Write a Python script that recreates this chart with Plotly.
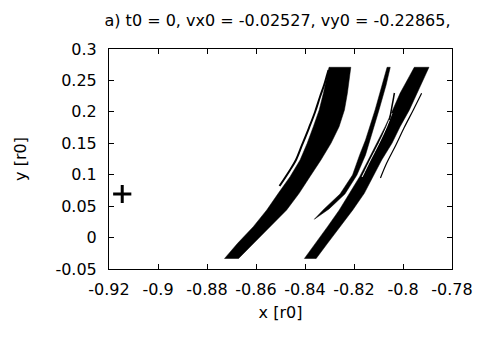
import plotly.graph_objects as go

# ---------------- data ----------------
title_text = "a) t0 = 0, vx0 = -0.02527, vy0 = -0.22865,"

x_tick_vals = [-0.92, -0.90, -0.88, -0.86, -0.84, -0.82, -0.80, -0.78]
x_tick_text = ["-0.92", "-0.9", "-0.88", "-0.86", "-0.84", "-0.82", "-0.8", "-0.78"]
y_tick_vals = [-0.05, 0.0, 0.05, 0.10, 0.15, 0.20, 0.25, 0.30]
y_tick_text = ["-0.05", "0", "0.05", "0.1", "0.15", "0.2", "0.25", "0.3"]

# y levels at which band edges were sampled
band_y = [-0.0336, -0.0091, 0.0173, 0.0439, 0.0704, 0.0968, 0.1234,
          0.1500, 0.1764, 0.2030, 0.2295, 0.2559, 0.2709]

band1_left = [-0.8729, -0.8675, -0.8611, -0.8556, -0.8509, -0.8461, -0.8420,
              -0.8391, -0.8366, -0.8342, -0.8325, -0.8309, -0.8302]
band1_right = [-0.8672, -0.8611, -0.8543, -0.8475, -0.8424, -0.8380, -0.8335,
               -0.8294, -0.8261, -0.8239, -0.8227, -0.8218, -0.8213]

band2_left = [-0.8403, -0.8356, -0.8308, -0.8260, -0.8218, -0.8177, -0.8142,
              -0.8106, -0.8073, -0.8042, -0.8012, -0.7975, -0.7954]
band2_right = [-0.8355, -0.8308, -0.8255, -0.8205, -0.8158, -0.8121, -0.8087,
               -0.8045, -0.8012, -0.7974, -0.7944, -0.7912, -0.7894]

# lens-shaped strand between the two bands (left edge up, right edge down)
strandB_x = [-0.8362, -0.8322, -0.8257, -0.8206, -0.8177, -0.8153, -0.8114, -0.8086, -0.8065,
             -0.8052, -0.8069, -0.8098, -0.8133, -0.8153, -0.8188, -0.8237, -0.8302, -0.8362]
strandB_y = [0.0291, 0.0455, 0.0693, 0.0995, 0.1314, 0.1552, 0.2030, 0.2427, 0.2709,
             0.2709, 0.2427, 0.2030, 0.1552, 0.1314, 0.0995, 0.0693, 0.0455, 0.0291]

# thin strand left of band 1
strandA_x = [-0.8504, -0.8461, -0.8437, -0.8412, -0.8384, -0.8359, -0.8339, -0.8322, -0.8310, -0.8304]
strandA_y = [0.0820, 0.1075, 0.1234, 0.1473, 0.1743, 0.1998, 0.2236, 0.2427, 0.2586, 0.2666]

# thin strand right of band 2
strandD_x = [-0.8092, -0.8067, -0.8029, -0.7996, -0.7958, -0.7924]
strandD_y = [0.0948, 0.1182, 0.1473, 0.1743, 0.2030, 0.2295]

# white crack near the left edge of band 2, and the thin tip above it
crack_x = [-0.8167, -0.8133, -0.8098, -0.8067, -0.8045]
crack_y = [0.0964, 0.1234, 0.1500, 0.1759, 0.1982]
strandC_x = [-0.8055, -0.8045, -0.8035]
strandC_y = [0.1871, 0.2061, 0.2300]

# starting point marker
marker_x = [-0.9146]
marker_y = [0.0693]

# ---------------- figure ----------------
fig = go.Figure()

def band(xl, xr, ys):
    return go.Scatter(x=xl + xr[::-1], y=ys + ys[::-1], mode="lines",
                      fill="toself", fillcolor="black",
                      line=dict(color="black", width=0.5),
                      hoverinfo="skip", showlegend=False)

fig.add_trace(band(band1_left, band1_right, band_y))
fig.add_trace(band(band2_left, band2_right, band_y))
fig.add_trace(go.Scatter(x=strandB_x, y=strandB_y, mode="lines", fill="toself",
                         fillcolor="black", line=dict(color="black", width=0.5),
                         showlegend=False, hoverinfo="skip"))
fig.add_trace(go.Scatter(x=strandA_x, y=strandA_y, mode="lines",
                         line=dict(color="black", width=2, shape="spline"), showlegend=False))
fig.add_trace(go.Scatter(x=strandD_x, y=strandD_y, mode="lines",
                         line=dict(color="black", width=1.2, shape="spline"), showlegend=False))
fig.add_trace(go.Scatter(x=crack_x, y=crack_y, mode="lines",
                         line=dict(color="white", width=1, shape="spline"), showlegend=False))
fig.add_trace(go.Scatter(x=strandC_x, y=strandC_y, mode="lines",
                         line=dict(color="black", width=1.5), showlegend=False))
fig.add_trace(go.Scatter(x=marker_x, y=marker_y, mode="markers",
                         marker=dict(symbol="cross-thin", size=13,
                                     line=dict(color="black", width=3)),
                         showlegend=False))

font = dict(family="DejaVu Sans", size=16, color="black")

fig.update_layout(
    width=500, height=342,
    margin=dict(l=109, r=48, t=49, b=73),
    paper_bgcolor="white", plot_bgcolor="white",
    font=font,
    title=dict(text=title_text, font=font, xref="container", x=0.555,
               xanchor="center", yref="container", y=1 - 20 / 342, yanchor="middle"),
    xaxis=dict(range=[-0.92, -0.78], tickvals=x_tick_vals, ticktext=x_tick_text,
               ticks="inside", ticklen=5, tickcolor="black", mirror="ticks",
               showline=True, linecolor="black", linewidth=1, showgrid=False,
               zeroline=False, ticklabelstandoff=6,
               title=dict(text="x [r0]", font=font, standoff=8)),
    yaxis=dict(range=[-0.05, 0.30], tickvals=y_tick_vals, ticktext=y_tick_text,
               ticks="inside", ticklen=5, tickcolor="black", mirror="ticks",
               showline=True, linecolor="black", linewidth=1, showgrid=False,
               zeroline=False, ticklabelstandoff=8,
               title=dict(text="y [r0]", font=font, standoff=24)),
)

fig.write_html("out.html")
